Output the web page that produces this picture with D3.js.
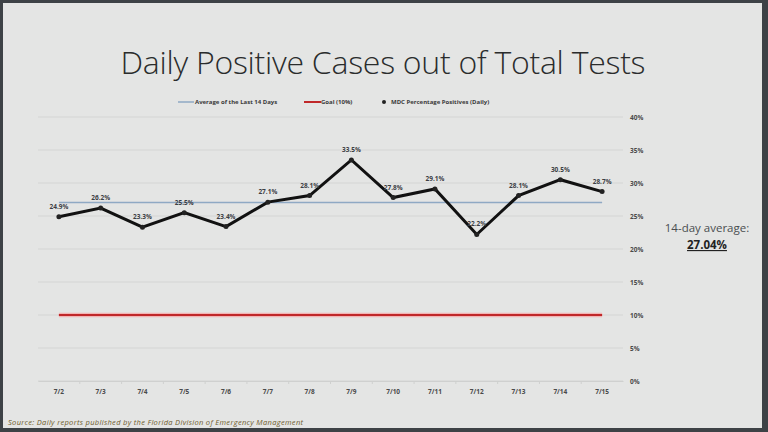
<!DOCTYPE html>
<html>
<head>
<meta charset="utf-8">
<script src="https://cdn.jsdelivr.net/npm/d3@7"></script>
<style>
  html, body { margin: 0; padding: 0; background: #5a5f63; }
  svg { display: block; }
</style>
</head>
<body>
<svg id="chart"></svg>
<script>
// Chart values
const dates = ["7/2", "7/3", "7/4", "7/5", "7/6", "7/7", "7/8", "7/9", "7/10", "7/11", "7/12", "7/13", "7/14", "7/15"];
const dailyPositive = [24.9, 26.2, 23.3, 25.5, 23.4, 27.1, 28.1, 33.5, 27.8, 29.1, 22.2, 28.1, 30.5, 28.7];
const average14 = 27.04;
const goal = 10;
const yTicks = [0, 5, 10, 15, 20, 25, 30, 35, 40];
const legendItems = ["Average of the Last 14 Days", "Goal (10%)", "MDC Percentage Positives (Daily)"];

const width = 768, height = 432;
const margin = { top: 117, right: 145, bottom: 51, left: 38 };
const innerW = width - margin.left - margin.right;
const innerH = height - margin.top - margin.bottom;

const svg = d3.select("#chart").attr("width", width).attr("height", height);

// slide background with dark frame
svg.append("rect").attr("width", width).attr("height", height).attr("fill", "#3d4246");
svg.append("rect")
  .attr("x", 3).attr("y", 3)
  .attr("width", width - 9).attr("height", height - 7)
  .attr("fill", "#e4e5e4");

svg.append("text")
  .attr("x", 383).attr("y", 74)
  .attr("text-anchor", "middle")
  .attr("font-family", "Open Sans, sans-serif")
  .attr("font-size", 32)
  .attr("font-weight", 300)
  .attr("fill", "#2a2c2c")
  .attr("textLength", 525)
  .text("Daily Positive Cases out of Total Tests");

const chart = svg.append("g").attr("transform", `translate(${margin.left},${margin.top})`);

const x = d3.scaleBand().domain(dates).range([0, innerW]);
const y = d3.scaleLinear().domain([0, 40]).range([innerH, 0]);
const cx = d => x(d) + x.bandwidth() / 2;

// gridlines
chart.append("g")
  .selectAll("line")
  .data(yTicks)
  .join("line")
  .attr("x1", 0).attr("x2", innerW)
  .attr("y1", d => y(d)).attr("y2", d => y(d))
  .attr("stroke", "#d4d5d4")
  .attr("stroke-width", 1);

// y axis on the right
const yAxis = d3.axisRight(y)
  .tickValues(yTicks)
  .tickSize(0)
  .tickPadding(7)
  .tickFormat(d => d + "%");
chart.append("g")
  .attr("transform", `translate(${innerW},0)`)
  .call(yAxis)
  .call(g => g.select(".domain").remove())
  .call(g => g.selectAll("text")
    .attr("font-family", "Open Sans, sans-serif")
    .attr("font-size", 6.5)
    .attr("font-weight", "bold")
    .attr("fill", "#4a4a4a"));

// x axis
const xAxis = d3.axisBottom(x).tickSize(0).tickPadding(8);
chart.append("g")
  .attr("transform", `translate(0,${innerH})`)
  .call(xAxis)
  .call(g => g.select(".domain").attr("stroke", "#cfd0cf"))
  .call(g => g.selectAll("text")
    .attr("font-family", "Open Sans, sans-serif")
    .attr("font-size", 6.5)
    .attr("font-weight", "bold")
    .attr("fill", "#4a4a4a"));

// small tick marks between categories
chart.append("g")
  .selectAll("line")
  .data(dates.slice(1))
  .join("line")
  .attr("x1", d => x(d)).attr("x2", d => x(d))
  .attr("y1", innerH).attr("y2", innerH + 3)
  .attr("stroke", "#cfd0cf");

// goal line
chart.append("line")
  .attr("x1", cx(dates[0])).attr("x2", cx(dates[dates.length - 1]))
  .attr("y1", y(goal)).attr("y2", y(goal))
  .attr("stroke", "#f2b5b5").attr("stroke-width", 4.5);
chart.append("line")
  .attr("x1", cx(dates[0])).attr("x2", cx(dates[dates.length - 1]))
  .attr("y1", y(goal)).attr("y2", y(goal))
  .attr("stroke", "#c0282a").attr("stroke-width", 2);

// 14-day average line
chart.append("line")
  .attr("x1", cx(dates[0])).attr("x2", cx(dates[dates.length - 1]))
  .attr("y1", y(average14)).attr("y2", y(average14))
  .attr("stroke", "#8fa9c4").attr("stroke-width", 1.6);

// daily line
const line = d3.line()
  .x((d, i) => cx(dates[i]))
  .y(d => y(d));
chart.append("path")
  .datum(dailyPositive)
  .attr("d", line)
  .attr("fill", "none")
  .attr("stroke", "#111")
  .attr("stroke-width", 3)
  .attr("stroke-linejoin", "miter");

chart.append("g")
  .selectAll("circle")
  .data(dailyPositive)
  .join("circle")
  .attr("cx", (d, i) => cx(dates[i]))
  .attr("cy", d => y(d))
  .attr("r", 2.5)
  .attr("fill", "#222");

// data labels
chart.append("g")
  .selectAll("text")
  .data(dailyPositive)
  .join("text")
  .attr("x", (d, i) => cx(dates[i]))
  .attr("y", d => y(d) - 8)
  .attr("text-anchor", "middle")
  .attr("font-family", "Open Sans, sans-serif")
  .attr("font-size", 6.5)
  .attr("font-weight", "bold")
  .attr("fill", "#3c4044")
  .text(d => d.toFixed(1) + "%");

// legend
const legend = svg.append("g")
  .attr("font-family", "Open Sans, sans-serif")
  .attr("font-size", 6)
  .attr("font-weight", "bold")
  .attr("fill", "#3a3a3a");

legend.append("line")
  .attr("x1", 178).attr("x2", 194).attr("y1", 102).attr("y2", 102)
  .attr("stroke", "#8fa9c4").attr("stroke-width", 1.5);
legend.append("text").attr("x", 195).attr("y", 104.2).text(legendItems[0]);

legend.append("line")
  .attr("x1", 304).attr("x2", 321).attr("y1", 102).attr("y2", 102)
  .attr("stroke", "#c0282a").attr("stroke-width", 2);
legend.append("text").attr("x", 321).attr("y", 104.2).text(legendItems[1]);

legend.append("circle").attr("cx", 384).attr("cy", 102).attr("r", 2).attr("fill", "#222");
legend.append("text").attr("x", 391).attr("y", 104.2).text(legendItems[2]);

// 14-day average annotation
svg.append("text")
  .attr("x", 707).attr("y", 232)
  .attr("text-anchor", "middle")
  .attr("font-family", "Open Sans, sans-serif")
  .attr("font-size", 11.5)
  .attr("fill", "#4a4e50")
  .text("14-day average:");
svg.append("text")
  .attr("x", 707).attr("y", 249)
  .attr("text-anchor", "middle")
  .attr("font-family", "Open Sans, sans-serif")
  .attr("font-size", 11.5)
  .attr("font-weight", "bold")
  .attr("fill", "#222")
  .attr("text-decoration", "underline")
  .text(average14.toFixed(2) + "%");

// source note
svg.append("text")
  .attr("x", 8).attr("y", 425)
  .attr("font-family", "Open Sans, sans-serif")
  .attr("font-size", 7.5)
  .attr("font-style", "italic")
  .attr("fill", "#6e5c2c")
  .attr("textLength", 295)
  .text("Source: Daily reports published by the Florida Division of Emergency Management");
</script>
</body>
</html>
